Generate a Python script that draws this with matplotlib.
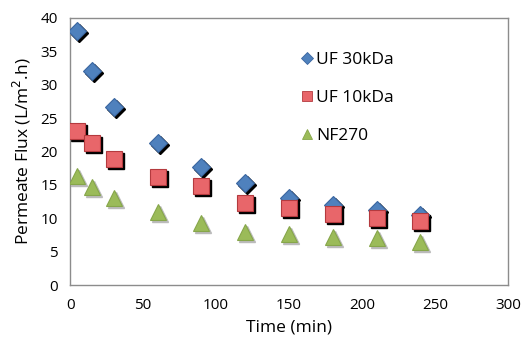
import matplotlib
matplotlib.use("Agg")
import matplotlib.pyplot as plt
import matplotlib.transforms as mtransforms
from matplotlib.lines import Line2D

time = [5, 15, 30, 60, 90, 120, 150, 180, 210, 240]
uf30 = [38.0, 32.0, 26.7, 21.3, 17.7, 15.3, 13.0, 12.0, 11.3, 10.5]
uf10 = [23.0, 21.3, 18.8, 16.1, 14.8, 12.3, 11.6, 10.6, 10.1, 9.6]
nf270 = [16.3, 14.7, 13.0, 11.0, 9.3, 8.0, 7.6, 7.2, 7.0, 6.4]
labels = ["UF 30kDa", "UF 10kDa", "NF270"]

plt.rcParams['font.family'] = ['Open Sans', 'DejaVu Sans']

fig = plt.figure(figsize=(5.23, 3.44), dpi=100)
ax = fig.add_axes([0.134, 0.1715, 0.837, 0.7765])

shadow = mtransforms.offset_copy(ax.transData, fig=fig, x=2, y=-2, units='dots')

series = [
    (uf30, 'D', '#4F81BD', '#3A66A0', 9, 'black'),
    (uf10, 's', '#E8666A', '#B43A3E', 11, 'black'),
    (nf270, '^', '#9BBB59', '#86A64A', 11, '#BBBBBB'),
]
handles = []
for (vals, m, fc, ec, ms, sc), lab in zip(series, labels):
    ax.plot(time, vals, linestyle='none', marker=m, markersize=ms,
            color=sc, markeredgecolor=sc, transform=shadow, zorder=2)
    ax.plot(time, vals, linestyle='none', marker=m, markersize=ms,
            markerfacecolor=fc, markeredgecolor=ec, markeredgewidth=0.8, zorder=3)
    handles.append(Line2D([], [], linestyle='none', marker=m,
                          markersize=ms * 0.65, markerfacecolor=fc,
                          markeredgecolor=ec, markeredgewidth=0.6, label=lab))

ax.set_xlim(0, 300)
ax.set_ylim(0, 40)
ax.set_xticks(range(0, 301, 50))
ax.set_yticks(range(0, 41, 5))
ax.tick_params(length=0, labelsize=11, pad=9, colors='black')
for s in ax.spines.values():
    s.set_color('#8C8C8C')
    s.set_linewidth(1.0)

ax.set_xlabel("Time (min)", fontsize=12.5, labelpad=5)
ax.set_ylabel("Permeate Flux (L/m$^2$.h)", fontsize=12.5, labelpad=5)

ax.legend(handles=handles, loc='upper left', bbox_to_anchor=(0.485, 0.93),
          frameon=False, fontsize=12.5, labelspacing=1.25, handletextpad=0.05,
          handlelength=1.0)

fig.savefig("out.png", dpi=100)
